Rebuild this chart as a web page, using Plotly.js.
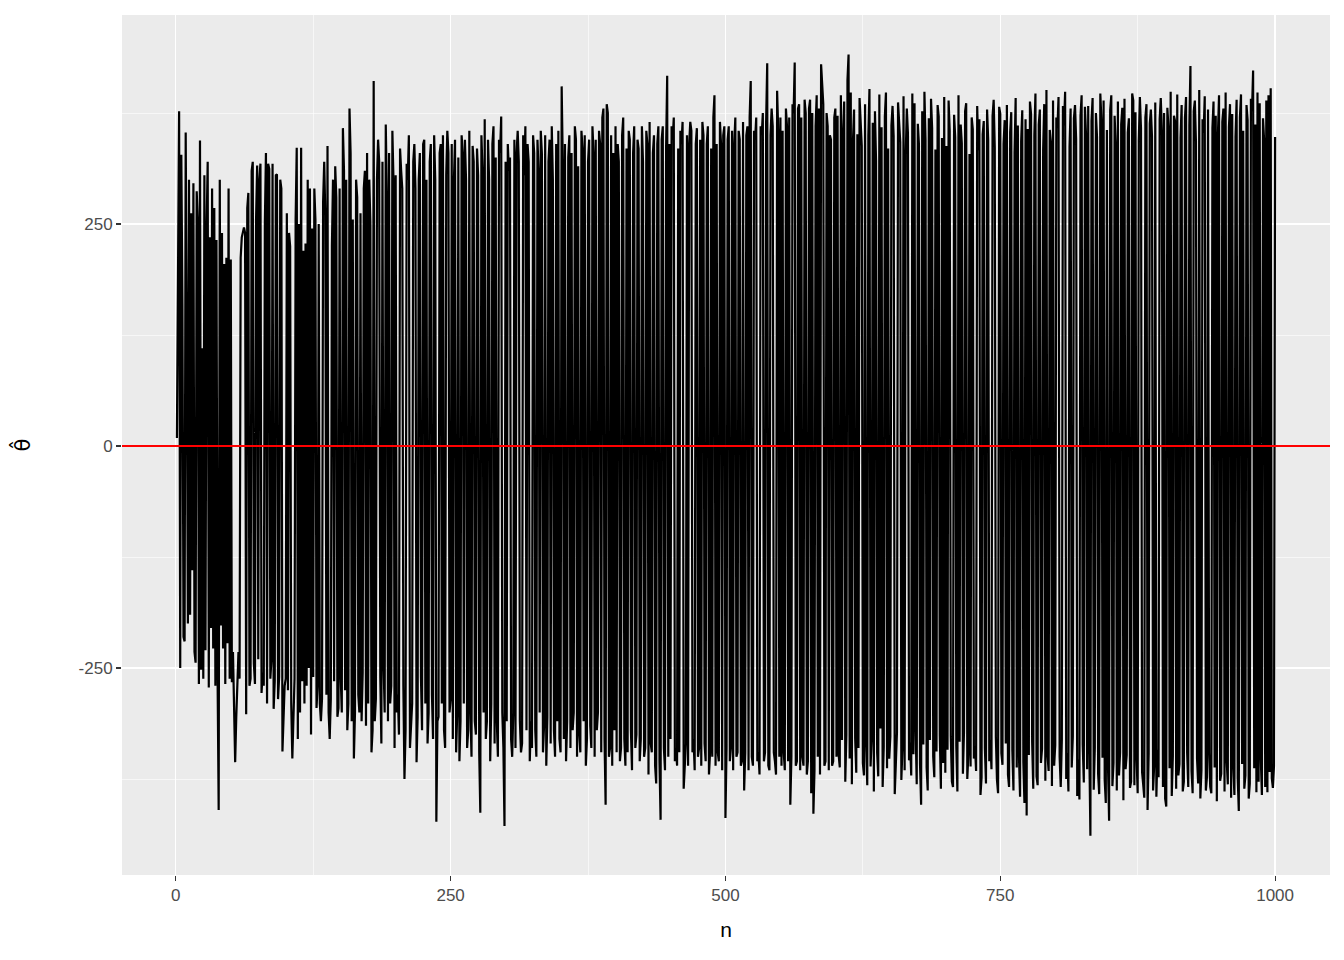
<!DOCTYPE html>
<html>
<head>
<meta charset="utf-8">
<script src="https://cdn.plot.ly/plotly-3.0.1.min.js"></script>
<style>html,body{margin:0;padding:0;background:#fff;}#chart{width:1344px;height:960px;}</style>
</head>
<body>
<div id="chart"></div>
<script>
// Estimated theta-hat values for n = 1..1000
const theta = [
9,230,377,-250,328,160,-215,-220,353,107,-200,300,-190,262,-140,296,-232,-244,287,252,-268,344,-252,110,-262,
305,-230,245,320,-272,235,-205,290,-228,268,-270,232,-260,-410,300,-202,240,-228,205,-268,212,-222,290,-262,210,
-266,-232,-300,-356,-305,-262,-232,-262,212,235,243,246,240,-302,268,285,-270,-262,310,320,-245,-268,255,316,-240,
300,318,-278,-255,-270,250,330,-290,318,312,-262,-240,318,-296,-265,305,306,-285,-260,300,290,-344,-300,-270,-262,
262,-275,240,225,-290,-352,-298,-262,255,336,-330,250,-300,336,-265,220,-290,228,-270,300,-250,290,-325,245,-260,
290,255,-295,-270,250,-290,-310,-285,275,320,260,-280,338,-300,-330,-285,225,300,-265,315,280,-305,-295,290,-260,
-300,358,310,-275,300,-320,-290,380,330,-310,255,-352,-300,300,280,-280,-300,262,-310,-255,290,310,-315,330,-290,
300,250,-345,-320,411,-310,-285,300,345,320,-260,-335,320,-245,-300,362,280,-310,330,-290,-270,355,300,-340,305,
-300,-280,-325,335,310,290,-270,-375,-320,318,300,350,-340,-310,-290,320,340,290,-356,-305,300,330,-260,-320,340,
345,-290,300,-335,-300,320,340,-280,-330,350,300,-423,-310,-305,330,340,-290,350,-320,-340,305,355,330,-300,-285,
340,-330,300,345,-345,-300,325,-355,-310,350,330,-290,345,300,-340,-320,355,-300,-350,338,320,-310,-325,335,305,
-345,-413,350,310,-300,368,-330,-310,345,300,-355,-290,340,360,-335,325,-310,-350,345,330,371,-300,-340,-428,320,
-310,340,310,325,-330,-350,-300,345,-340,330,355,320,-310,-345,-335,350,305,360,-320,340,320,-355,-310,-340,350,
330,-320,-350,345,310,-300,355,330,-345,-315,350,-360,-305,320,345,-335,360,300,-320,-350,340,-310,355,-330,-345,
405,320,-330,340,-355,-310,325,350,-340,330,-320,-300,360,345,-350,315,-325,-345,355,335,-310,350,-360,-330,320,
345,-315,-340,360,330,-350,345,-320,-300,355,340,-345,370,380,-330,-404,385,375,-350,-340,350,-360,330,-320,360,
-345,340,320,-355,-340,350,370,-330,-360,335,-345,355,345,-320,-365,330,360,-340,-325,345,335,-355,-330,360,320,
-350,-340,355,340,-370,365,-335,-345,330,350,-360,-380,340,360,-355,-421,345,360,-340,-365,335,417,-350,340,-330,
360,345,370,-355,-340,-360,335,-345,355,340,365,-386,-350,-335,350,-360,340,365,355,-345,-330,-365,340,358,-350,
-340,345,-360,365,350,-335,-355,340,360,-370,-345,335,-350,370,395,-360,340,-345,-355,365,340,-365,350,360,-419,
-340,345,360,-355,-340,355,-365,340,370,-350,-345,355,345,-360,-355,365,-388,-345,350,360,-365,370,411,-350,-360,
355,345,370,-355,-345,-370,360,350,375,-355,-345,365,431,-360,-365,350,380,360,-345,-355,-370,400,355,-350,370,
-360,355,-345,-365,380,360,-355,370,-404,-350,385,375,432,-360,-355,380,385,-365,370,-350,-360,390,375,-370,-355,
380,390,-391,375,-414,-365,360,395,-350,380,-370,430,400,385,-360,-355,375,360,-365,350,345,-360,-355,370,380,
-350,372,-348,-362,395,-331,356,388,-378,-325,412,441,-352,398,-381,344,379,-329,-368,351,-340,392,366,338,-357,
-371,385,-336,-382,349,402,-361,-330,364,-389,377,321,-345,-372,396,-318,359,-384,-339,371,398,-363,335,-352,-327,
361,383,349,-392,-358,-323,387,366,342,-376,-341,394,-365,328,380,352,-354,-334,-371,397,-347,386,-319,-381,363,
340,-358,-404,377,-336,399,345,-362,-388,369,-331,391,358,-350,-373,334,-344,384,371,-326,-386,347,-357,393,-368,
338,-342,389,355,-327,-378,-384,373,348,-338,-389,395,-333,362,341,-369,-322,377,386,-375,-347,329,-361,370,357,
-352,-338,-366,383,333,368,-393,-373,351,366,-340,-380,379,345,-355,-331,-364,372,390,336,-328,-376,-391,382,374,
-346,-359,340,367,-335,384,-370,-384,353,376,-343,-388,330,392,-362,361,-349,-395,343,378,-356,-402,368,-416,357,
-348,388,374,-333,-386,350,397,-372,-382,362,379,-357,-341,333,385,-377,401,-349,-366,356,342,-383,389,-360,-337,
370,358,393,-350,-384,-331,383,361,399,-375,-346,-389,337,380,-362,-327,369,384,346,-394,-353,-398,372,395,-336,
-379,382,351,-364,383,-343,-439,366,392,-387,-340,375,348,-369,-392,397,367,-351,389,-376,-402,356,-361,-422,378,
395,-383,-357,372,340,-388,388,-371,-345,362,381,-399,391,-364,-348,353,369,-385,-378,397,389,-382,376,-352,-391,
344,393,358,-367,-381,-396,370,385,-410,-346,363,379,349,-388,-360,387,-395,-342,-373,368,392,355,-384,375,-397,
-406,381,359,-363,399,-394,-349,372,366,-386,396,-371,-358,347,384,-389,-378,369,393,-345,-384,361,428,-366,-391,
377,389,343,-352,-380,401,-397,-365,368,353,394,-388,-373,379,-346,-384,-391,358,388,-362,372,-400,351,395,-377,
-369,365,380,-389,398,-355,-381,359,385,-396,374,-362,-393,348,390,-374,-411,370,396,-358,355,-386,-371,384,367,
-397,-380,391,377,423,-363,362,-390,398,-378,386,-352,-393,369,345,-384,389,-390,395,-367,403,-374,-385,-360,348
];
const n = theta.map((_, i) => i + 1);
const xTicks = [0, 250, 500, 750, 1000];
const xMinor = [125, 375, 625, 875];
const yTicks = [-250, 0, 250];
const yMinor = [-375, -125, 125, 375];
const refLine = 0;

const font = "Liberation Sans, Arial, Helvetica, sans-serif";

const trace = {
  x: n, y: theta, type: 'scatter', mode: 'lines',
  line: {color: '#000000', width: 2.2}, hoverinfo: 'skip', showlegend: false
};

const layout = {
  width: 1344, height: 960,
  margin: {l: 122, r: 14, t: 15, b: 85},
  paper_bgcolor: '#FFFFFF', plot_bgcolor: '#EBEBEB',
  font: {family: font},
  showlegend: false,
  xaxis: {
    range: [-48.95, 1049.95], tickmode: 'array', tickvals: xTicks, ticktext: xTicks.map(String),
    ticks: 'outside', ticklen: 5, tickwidth: 1.1, tickcolor: '#333333',
    tickfont: {size: 17, color: '#4D4D4D', family: font},
    showgrid: true, gridcolor: '#FFFFFF', gridwidth: 1.3, zeroline: false, showline: false,
    minor: {tickvals: xMinor, showgrid: true, gridcolor: '#FFFFFF', gridwidth: 0.6},
    title: {text: 'n', font: {size: 21, color: '#000000', family: font}, standoff: 17}
  },
  yaxis: {
    range: [-483.1, 485.4], tickmode: 'array', tickvals: yTicks, ticktext: yTicks.map(String),
    ticks: 'outside', ticklen: 5, tickwidth: 1.1, tickcolor: '#333333',
    tickfont: {size: 17, color: '#4D4D4D', family: font},
    showgrid: true, gridcolor: '#FFFFFF', gridwidth: 1.3, zeroline: false, showline: false,
    minor: {tickvals: yMinor, showgrid: true, gridcolor: '#FFFFFF', gridwidth: 0.6},
    title: {text: 'θ\u0302', font: {size: 21, color: '#000000', family: 'DejaVu Sans, Noto Sans, sans-serif'}, standoff: 42}
  },
  shapes: [{
    type: 'line', xref: 'paper', x0: 0, x1: 1, yref: 'y', y0: refLine, y1: refLine,
    line: {color: '#FF0000', width: 2}, layer: 'above'
  }]
};

Plotly.newPlot('chart', [trace], layout, {displayModeBar: false, staticPlot: true});
</script>
</body>
</html>
